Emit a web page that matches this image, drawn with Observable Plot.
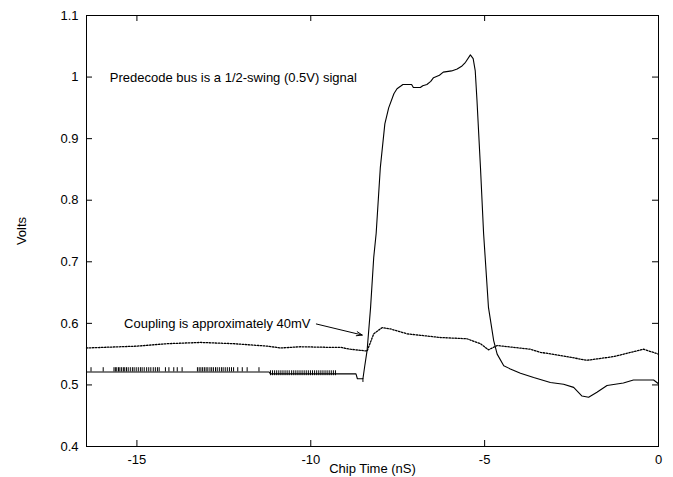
<!DOCTYPE html>
<html>
<head>
<meta charset="utf-8">
<script src="https://cdn.jsdelivr.net/npm/d3@7"></script>
<script src="https://cdn.jsdelivr.net/npm/@observablehq/plot@0.6"></script>
<style>
  body { margin: 0; background: white; }
</style>
</head>
<body>
<div id="chart"></div>
<script>
// ---- Data ----
const xTicks = [-15, -10, -5, 0];
const yTicks = [0.4, 0.5, 0.6, 0.7, 0.8, 0.9, 1, 1.1];

// Predecode bus (solid)
const busTime = [-16.45, -11.2, -11.16, -8.70, -8.66, -8.50, -8.45, -8.38, -8.28, -8.19, -8.12, -8.00, -7.87, -7.76, -7.61, -7.52, -7.42, -7.35, -7.10, -7.05, -6.85, -6.78, -6.66, -6.55, -6.47, -6.30, -6.19, -5.95, -5.79, -5.65, -5.55, -5.41, -5.33, -5.27, -5.22, -5.12, -5.03, -4.89, -4.74, -4.64, -4.45, -4.26, -3.97, -3.59, -3.11, -2.73, -2.44, -2.20, -2.01, -1.77, -1.48, -1.01, -0.72, -0.14, 0];
const busVolts = [0.521, 0.521, 0.518, 0.518, 0.510, 0.510, 0.530, 0.556, 0.626, 0.707, 0.746, 0.853, 0.924, 0.950, 0.973, 0.981, 0.985, 0.988, 0.988, 0.983, 0.983, 0.986, 0.988, 0.993, 0.999, 1.003, 1.008, 1.010, 1.013, 1.018, 1.024, 1.036, 1.030, 1.010, 0.962, 0.853, 0.746, 0.626, 0.572, 0.550, 0.531, 0.526, 0.519, 0.512, 0.504, 0.501, 0.496, 0.482, 0.480, 0.488, 0.499, 0.503, 0.508, 0.508, 0.502];

// Coupled neighbour line (dotted)
const coupTime = [-16.45, -15.0, -14.13, -13.17, -12.22, -11.24, -10.87, -10.3, -9.43, -9.14, -8.86, -8.38, -8.19, -7.95, -7.71, -7.23, -6.27, -5.51, -5.12, -4.89, -4.64, -3.69, -3.40, -2.73, -2.06, -1.29, -0.43, 0];
const coupVolts = [0.560, 0.563, 0.567, 0.569, 0.567, 0.563, 0.560, 0.562, 0.561, 0.561, 0.558, 0.555, 0.583, 0.593, 0.591, 0.583, 0.577, 0.575, 0.567, 0.557, 0.564, 0.558, 0.553, 0.547, 0.540, 0.546, 0.558, 0.550];

// quantisation spikes on the flat part of the bus trace
const spikesUpperTime = [-16.32, -15.97, -15.66, -15.62, -15.58, -15.53, -15.49, -15.44, -15.39, -15.35, -15.30, -15.25, -15.19, -15.13, -15.08, -15.02, -14.96, -14.90, -14.85, -14.79, -14.72, -14.66, -14.60, -14.53, -14.47, -14.41, -14.36, -14.18, -14.08, -13.94, -13.84, -13.70, -13.26, -13.21, -13.16, -13.11, -13.06, -13.01, -12.96, -12.90, -12.85, -12.80, -12.74, -12.69, -12.63, -12.57, -12.52, -12.46, -12.40, -12.34, -12.28, -12.22, -12.10, -11.97, -11.83, -11.49];
const spikesUpperRange = [0.521, 0.528];
const spikesLowerTime = [-11.16, -11.10, -11.04, -10.98, -10.92, -10.86, -10.80, -10.74, -10.68, -10.62, -10.55, -10.49, -10.43, -10.37, -10.31, -10.25, -10.19, -10.13, -10.07, -10.01, -9.95, -9.89, -9.83, -9.77, -9.71, -9.65, -9.59, -9.53, -9.47, -9.41, -9.35, -9.29];
const spikesLowerRange = [0.515, 0.523];
const dipSpike = [{t: -8.50, v1: 0.510, v2: 0.504}];

// annotations
const notes = [
  {t: -15.78, v: 0.999, label: "Predecode bus is a 1/2-swing (0.5V) signal"},
  {t: -15.37, v: 0.5995, label: "Coupling is approximately 40mV"}
];
const arrows = [{t1: -9.84, v1: 0.599, t2: -8.52, v2: 0.581}];

const xLabel = "Chip Time (nS)";
const yLabel = "Volts";

// ---- Build tables ----
const bus = busTime.map((t, i) => ({t, v: busVolts[i]}));
const coup = coupTime.map((t, i) => ({t, v: coupVolts[i]}));

const width = 673, height = 477;
const mL = 86, mR = 15, mT = 15, mB = 31;
const pw = width - mL - mR, ph = height - mT - mB;
const tick = 6;

const chart = Plot.plot({
  width, height,
  marginLeft: mL, marginRight: mR, marginTop: mT, marginBottom: mB,
  style: {fontFamily: "'Liberation Sans', Arial, Helvetica, sans-serif", fontSize: "13px", background: "white", color: "black"},
  x: {domain: [-16.45, 0]},
  y: {domain: [0.4, 1.1]},
  marks: [
    Plot.axisX({ticks: xTicks, tickSize: 0, tickPadding: 8, tickFormat: d => String(d), label: null, fontSize: 13}),
    Plot.axisY({ticks: yTicks, tickSize: 0, tickPadding: 8, tickFormat: d => String(d), label: null, fontSize: 13}),
    // inward ticks on all four sides
    Plot.tickY(yTicks, {y: d => d, insetRight: pw - tick, stroke: "black"}),
    Plot.tickY(yTicks, {y: d => d, insetLeft: pw - tick, stroke: "black"}),
    Plot.tickX(xTicks, {x: d => d, insetTop: ph - tick, stroke: "black"}),
    Plot.tickX(xTicks, {x: d => d, insetBottom: ph - tick, stroke: "black"}),
    // spikes
    Plot.ruleX(spikesUpperTime, {x: d => d, y1: spikesUpperRange[0], y2: spikesUpperRange[1], stroke: "black", strokeWidth: 1}),
    Plot.ruleX(spikesLowerTime, {x: d => d, y1: spikesLowerRange[0], y2: spikesLowerRange[1], stroke: "black", strokeWidth: 1}),
    Plot.ruleX(dipSpike, {x: "t", y1: "v1", y2: "v2", stroke: "black", strokeWidth: 1}),
    // traces
    Plot.line(coup, {x: "t", y: "v", stroke: "black", strokeWidth: 1.3, strokeDasharray: "1.5,1.5"}),
    Plot.line(bus, {x: "t", y: "v", stroke: "black", strokeWidth: 1.1}),
    // annotations
    Plot.text(notes, {x: "t", y: "v", text: "label", textAnchor: "start", fontSize: 13, fill: "black"}),
    Plot.arrow(arrows, {x1: "t1", y1: "v1", x2: "t2", y2: "v2", headLength: 9, headAngle: 40, stroke: "black", strokeWidth: 1}),
    // axis titles
    Plot.text([xLabel], {text: d => d, frameAnchor: "bottom", lineAnchor: "middle", textAnchor: "middle", dy: 22, fontSize: 13, fill: "black"}),
    Plot.text([yLabel], {text: d => d, frameAnchor: "left", lineAnchor: "middle", textAnchor: "middle", dx: -65, rotate: -90, fontSize: 13, fill: "black"}),
    Plot.frame({stroke: "black", strokeWidth: 1})
  ]
});
document.getElementById("chart").appendChild(chart);
</script>
</body>
</html>
